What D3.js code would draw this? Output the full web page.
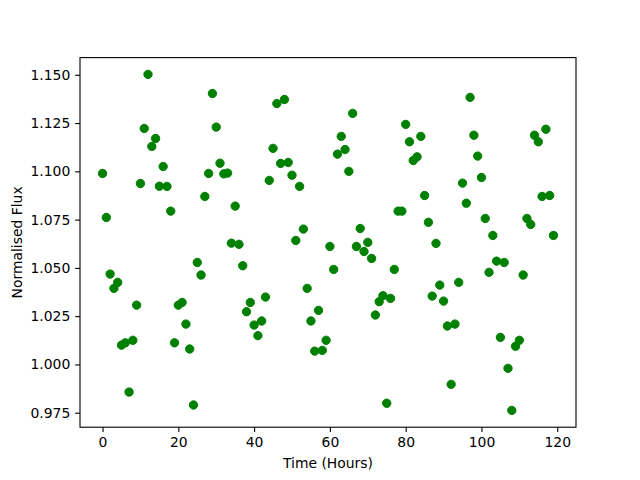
<!DOCTYPE html>
<html>
<head>
<meta charset="utf-8">
<script src="https://cdn.jsdelivr.net/npm/d3@7"></script>
<style>
  html, body { margin: 0; padding: 0; background: #ffffff; }
  svg { display: block; font-family: "DejaVu Sans", sans-serif; }
</style>
</head>
<body>
<svg id="chart" width="640" height="480"></svg>
<script>
// Time in hours (0..119)
const hours = d3.range(0, 120);
// Normalised flux values
const flux = [
  1.0989, 1.0761, 1.0468, 1.0394, 1.0425, 1.0100, 1.0112, 0.9857, 1.0125, 1.0307,
  1.0937, 1.1222, 1.1502, 1.1129, 1.1170, 1.0923, 1.1025, 1.0922, 1.0794, 1.0112,
  1.0307, 1.0321, 1.0209, 1.0080, 0.9790, 1.0528, 1.0463, 1.0870, 1.0989, 1.1403,
  1.1229, 1.1042, 1.0987, 1.0991, 1.0628, 1.0820, 1.0622, 1.0511, 1.0273, 1.0321,
  1.0204, 1.0149, 1.0225, 1.0349, 1.0953, 1.1119, 1.1351, 1.1041, 1.1372, 1.1046,
  1.0980, 1.0642, 1.0922, 1.0701, 1.0394, 1.0225, 1.0069, 1.0280, 1.0073, 1.0125,
  1.0611, 1.0492, 1.1089, 1.1181, 1.1113, 1.1000, 1.1300, 1.0611, 1.0704, 1.0585,
  1.0632, 1.0549, 1.0256, 1.0325, 1.0356, 0.9799, 1.0342, 1.0492, 1.0794, 1.0794,
  1.1243, 1.1153, 1.1056, 1.1075, 1.1181, 1.0875, 1.0736, 1.0354, 1.0627, 1.0411,
  1.0328, 1.0199, 0.9897, 1.0209, 1.0425, 1.0939, 1.0835, 1.1383, 1.1187, 1.1079,
  1.0968, 1.0756, 1.0477, 1.0668, 1.0535, 1.0140, 1.0528, 0.9980, 0.9762, 1.0094,
  1.0125, 1.0463, 1.0756, 1.0725, 1.1187, 1.1153, 1.0870, 1.1218, 1.0875, 1.0668
];
const xTicks = [0, 20, 40, 60, 80, 100, 120];
const yTicks = [0.975, 1.000, 1.025, 1.050, 1.075, 1.100, 1.125, 1.150];
const xLabel = "Time (Hours)";
const yLabel = "Normalised Flux";
const pointColor = "#008000";

(function () {
  const axL = 80, axT = 57.6, axR = 576, axB = 427.2;
  const svg = d3.select("#chart");

  function padded(ext) {
    const r = ext[1] - ext[0];
    return [ext[0] - 0.05 * r, ext[1] + 0.05 * r];
  }

  const x = d3.scaleLinear().domain(padded(d3.extent(hours))).range([axL, axR]);
  const y = d3.scaleLinear().domain(padded(d3.extent(flux))).range([axB, axT]);

  const tickLen = 4.86, tickPad = 4.86, fs = 13.9;

  // points
  svg.append("g")
    .selectAll("circle")
    .data(hours.map((h, i) => ({ h, v: flux[i] })))
    .join("circle")
    .attr("cx", d => x(d.h))
    .attr("cy", d => y(d.v))
    .attr("r", 4.17)
    .attr("fill", pointColor)
    .attr("stroke", pointColor)
    .attr("stroke-width", 1);

  // axes
  const xAxis = d3.axisBottom(x).tickValues(xTicks).tickFormat(d3.format("d"))
    .tickSizeInner(tickLen).tickSizeOuter(0).tickPadding(tickPad);
  const yAxis = d3.axisLeft(y).tickValues(yTicks).tickFormat(d3.format(".3f"))
    .tickSizeInner(tickLen).tickSizeOuter(0).tickPadding(tickPad);

  const gx = svg.append("g").attr("transform", `translate(0,${axB})`).call(xAxis);
  const gy = svg.append("g").attr("transform", `translate(${axL},0)`).call(yAxis);
  [gx, gy].forEach(g => {
    g.select(".domain").remove();
    g.selectAll(".tick line").attr("stroke", "#000").attr("stroke-width", 1.1);
    g.selectAll(".tick text").attr("fill", "#000")
      .style("font-family", '"DejaVu Sans", sans-serif').style("font-size", fs + "px");
  });

  // frame
  svg.append("rect")
    .attr("x", axL).attr("y", axT)
    .attr("width", axR - axL).attr("height", axB - axT)
    .attr("fill", "none").attr("stroke", "#000").attr("stroke-width", 1.1);

  // labels
  svg.append("text")
    .attr("x", (axL + axR) / 2).attr("y", 468)
    .attr("text-anchor", "middle")
    .style("font-size", fs + "px")
    .text(xLabel);

  svg.append("text")
    .attr("transform", `translate(21.5,${(axT + axB) / 2}) rotate(-90)`)
    .attr("text-anchor", "middle")
    .style("font-size", fs + "px")
    .text(yLabel);
})();
</script>
</body>
</html>
